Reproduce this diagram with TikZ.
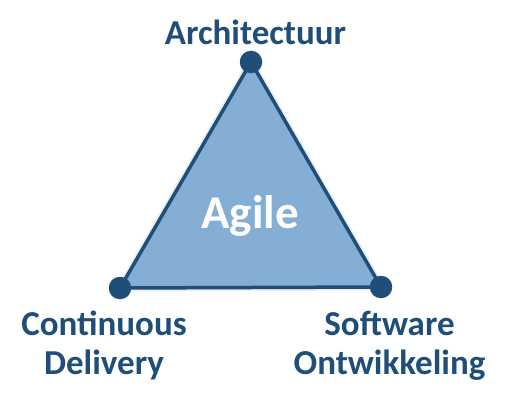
\documentclass[tikz,border=0pt]{standalone}
\usepackage{fontspec}
\setmainfont{Carlito}
\definecolor{darkblue}{HTML}{1F4E79}
\definecolor{lightblue}{HTML}{85AED5}
\definecolor{haze}{HTML}{E6EEF8}
\begin{document}
\begin{tikzpicture}[x=1pt,y=-1pt,
  vertex/.style={circle,fill=darkblue,inner sep=0pt,minimum size=22.5pt},
  label/.style={font=\bfseries\fontsize{35}{39}\selectfont,text=darkblue,align=center,anchor=base},
  edge/.style={draw=darkblue,line width=3.5pt,line join=round}]
  \useasboundingbox (0,0) rectangle (508,406);
  % corner points of the triangle
  \coordinate (top) at (251,62);
  \coordinate (left) at (120,288);
  \coordinate (right) at (381,287);
  % soft halo around the triangle
  \draw[haze,line width=7pt,line join=round] (top) -- (right) -- (left) -- cycle;
  % the triangle itself
  \path[edge,fill=lightblue] (top) -- (right) -- (left) -- cycle;
  \node[vertex] (vt) at (top) {};
  \node[vertex] (vl) at (left) {};
  \node[vertex] (vr) at (right) {};
  % labels (multi-line nodes sit on the baseline of their last line)
  \node[font=\bfseries\fontsize{47}{50}\selectfont,text=white,anchor=base] (agile) at (250,228) {Agile};
  \node[label] (arch) at (255.5,45) {Architectuur};
  \node[label] (cd) at (104,374) {Continuous\\Delivery};
  \node[label] (sw) at (389.5,374) {Software\\Ontwikkeling};
\end{tikzpicture}
\end{document}
